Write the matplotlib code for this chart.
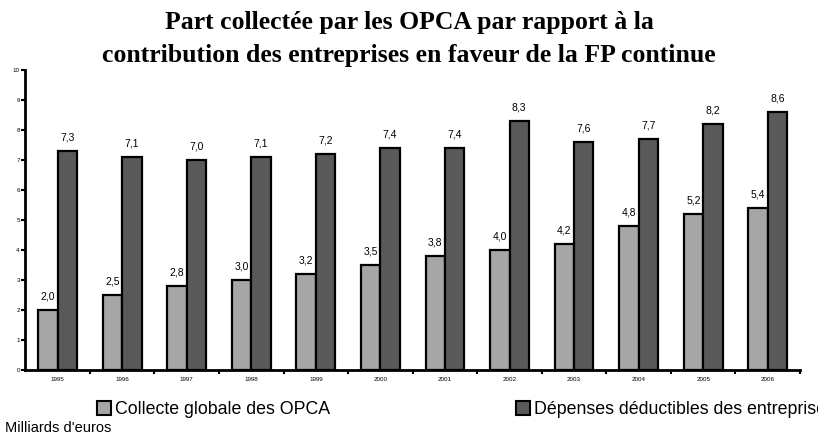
import matplotlib.pyplot as plt
from matplotlib.patches import Patch
import numpy as np

years = ["1995", "1996", "1997", "1998", "1999", "2000", "2001", "2002", "2003", "2004", "2005", "2006"]
collecte = [2.0, 2.5, 2.8, 3.0, 3.2, 3.5, 3.8, 4.0, 4.2, 4.8, 5.2, 5.4]
depenses = [7.3, 7.1, 7.0, 7.1, 7.2, 7.4, 7.4, 8.3, 7.6, 7.7, 8.2, 8.6]

light = "#a6a6a6"
dark = "#595959"

fig = plt.figure(figsize=(8.18, 4.43), dpi=100)
ax = fig.add_axes([0.031, 0.165, 0.947, 0.677])

x = np.arange(len(years))
w = 0.3
ax.bar(x - w / 2, collecte, w, color=light, edgecolor="black", linewidth=1.6)
ax.bar(x + w / 2, depenses, w, color=dark, edgecolor="black", linewidth=1.6)

# value labels above bars
for i in range(len(years)):
    ax.text(x[i] - w / 2, collecte[i] + 0.27, f"{collecte[i]:.1f}".replace(".", ","),
            ha="center", va="bottom", fontsize=7.5, family="Liberation Sans")
    ax.text(x[i] + w / 2, depenses[i] + 0.27, f"{depenses[i]:.1f}".replace(".", ","),
            ha="center", va="bottom", fontsize=7.5, family="Liberation Sans")

ax.set_xlim(-0.5, len(years) - 0.5)
ax.set_ylim(0, 10)
ax.set_yticks(range(0, 11))
ax.tick_params(axis="y", labelsize=4.5, length=3, width=1.5, pad=1)
ax.set_xticks(np.arange(0.5, len(years), 1))
ax.set_xticklabels([])
ax.tick_params(axis="x", length=3, width=1.5)
ax.set_xticks(x, minor=True)
ax.set_xticklabels(years, minor=True, fontsize=4.5, family="Liberation Sans")
ax.tick_params(axis="x", which="minor", length=0, pad=5)
for lab in ax.get_yticklabels():
    lab.set_family("Liberation Sans")

for s in ["top", "right"]:
    ax.spines[s].set_visible(False)
for s in ["left", "bottom"]:
    ax.spines[s].set_linewidth(2)

fig.text(0.5, 0.912, "Part collectée par les OPCA par rapport à la\ncontribution des entreprises en faveur de la FP continue",
         ha="center", va="center", fontsize=18.5, fontweight="bold", family="Liberation Serif", linespacing=1.6)

# legend, two entries spread apart
leg1 = fig.legend(handles=[Patch(facecolor=light, edgecolor="black", linewidth=1.5, label="Collecte globale des OPCA")],
                  loc="center left", bbox_to_anchor=(0.108, 0.075), frameon=False,
                  prop={"family": "Liberation Sans", "size": 12.8},
                  handlelength=0.8, handleheight=0.8, handletextpad=0.2, borderpad=0)
leg2 = fig.legend(handles=[Patch(facecolor=dark, edgecolor="black", linewidth=1.5, label="Dépenses déductibles des entreprises")],
                  loc="center left", bbox_to_anchor=(0.62, 0.075), frameon=False,
                  prop={"family": "Liberation Sans", "size": 12.8},
                  handlelength=0.8, handleheight=0.8, handletextpad=0.2, borderpad=0)

fig.text(0.006, 0.033, "Milliards d'euros", ha="left", va="center", fontsize=10.5, family="Liberation Sans")

fig.savefig("out.png", dpi=100)
